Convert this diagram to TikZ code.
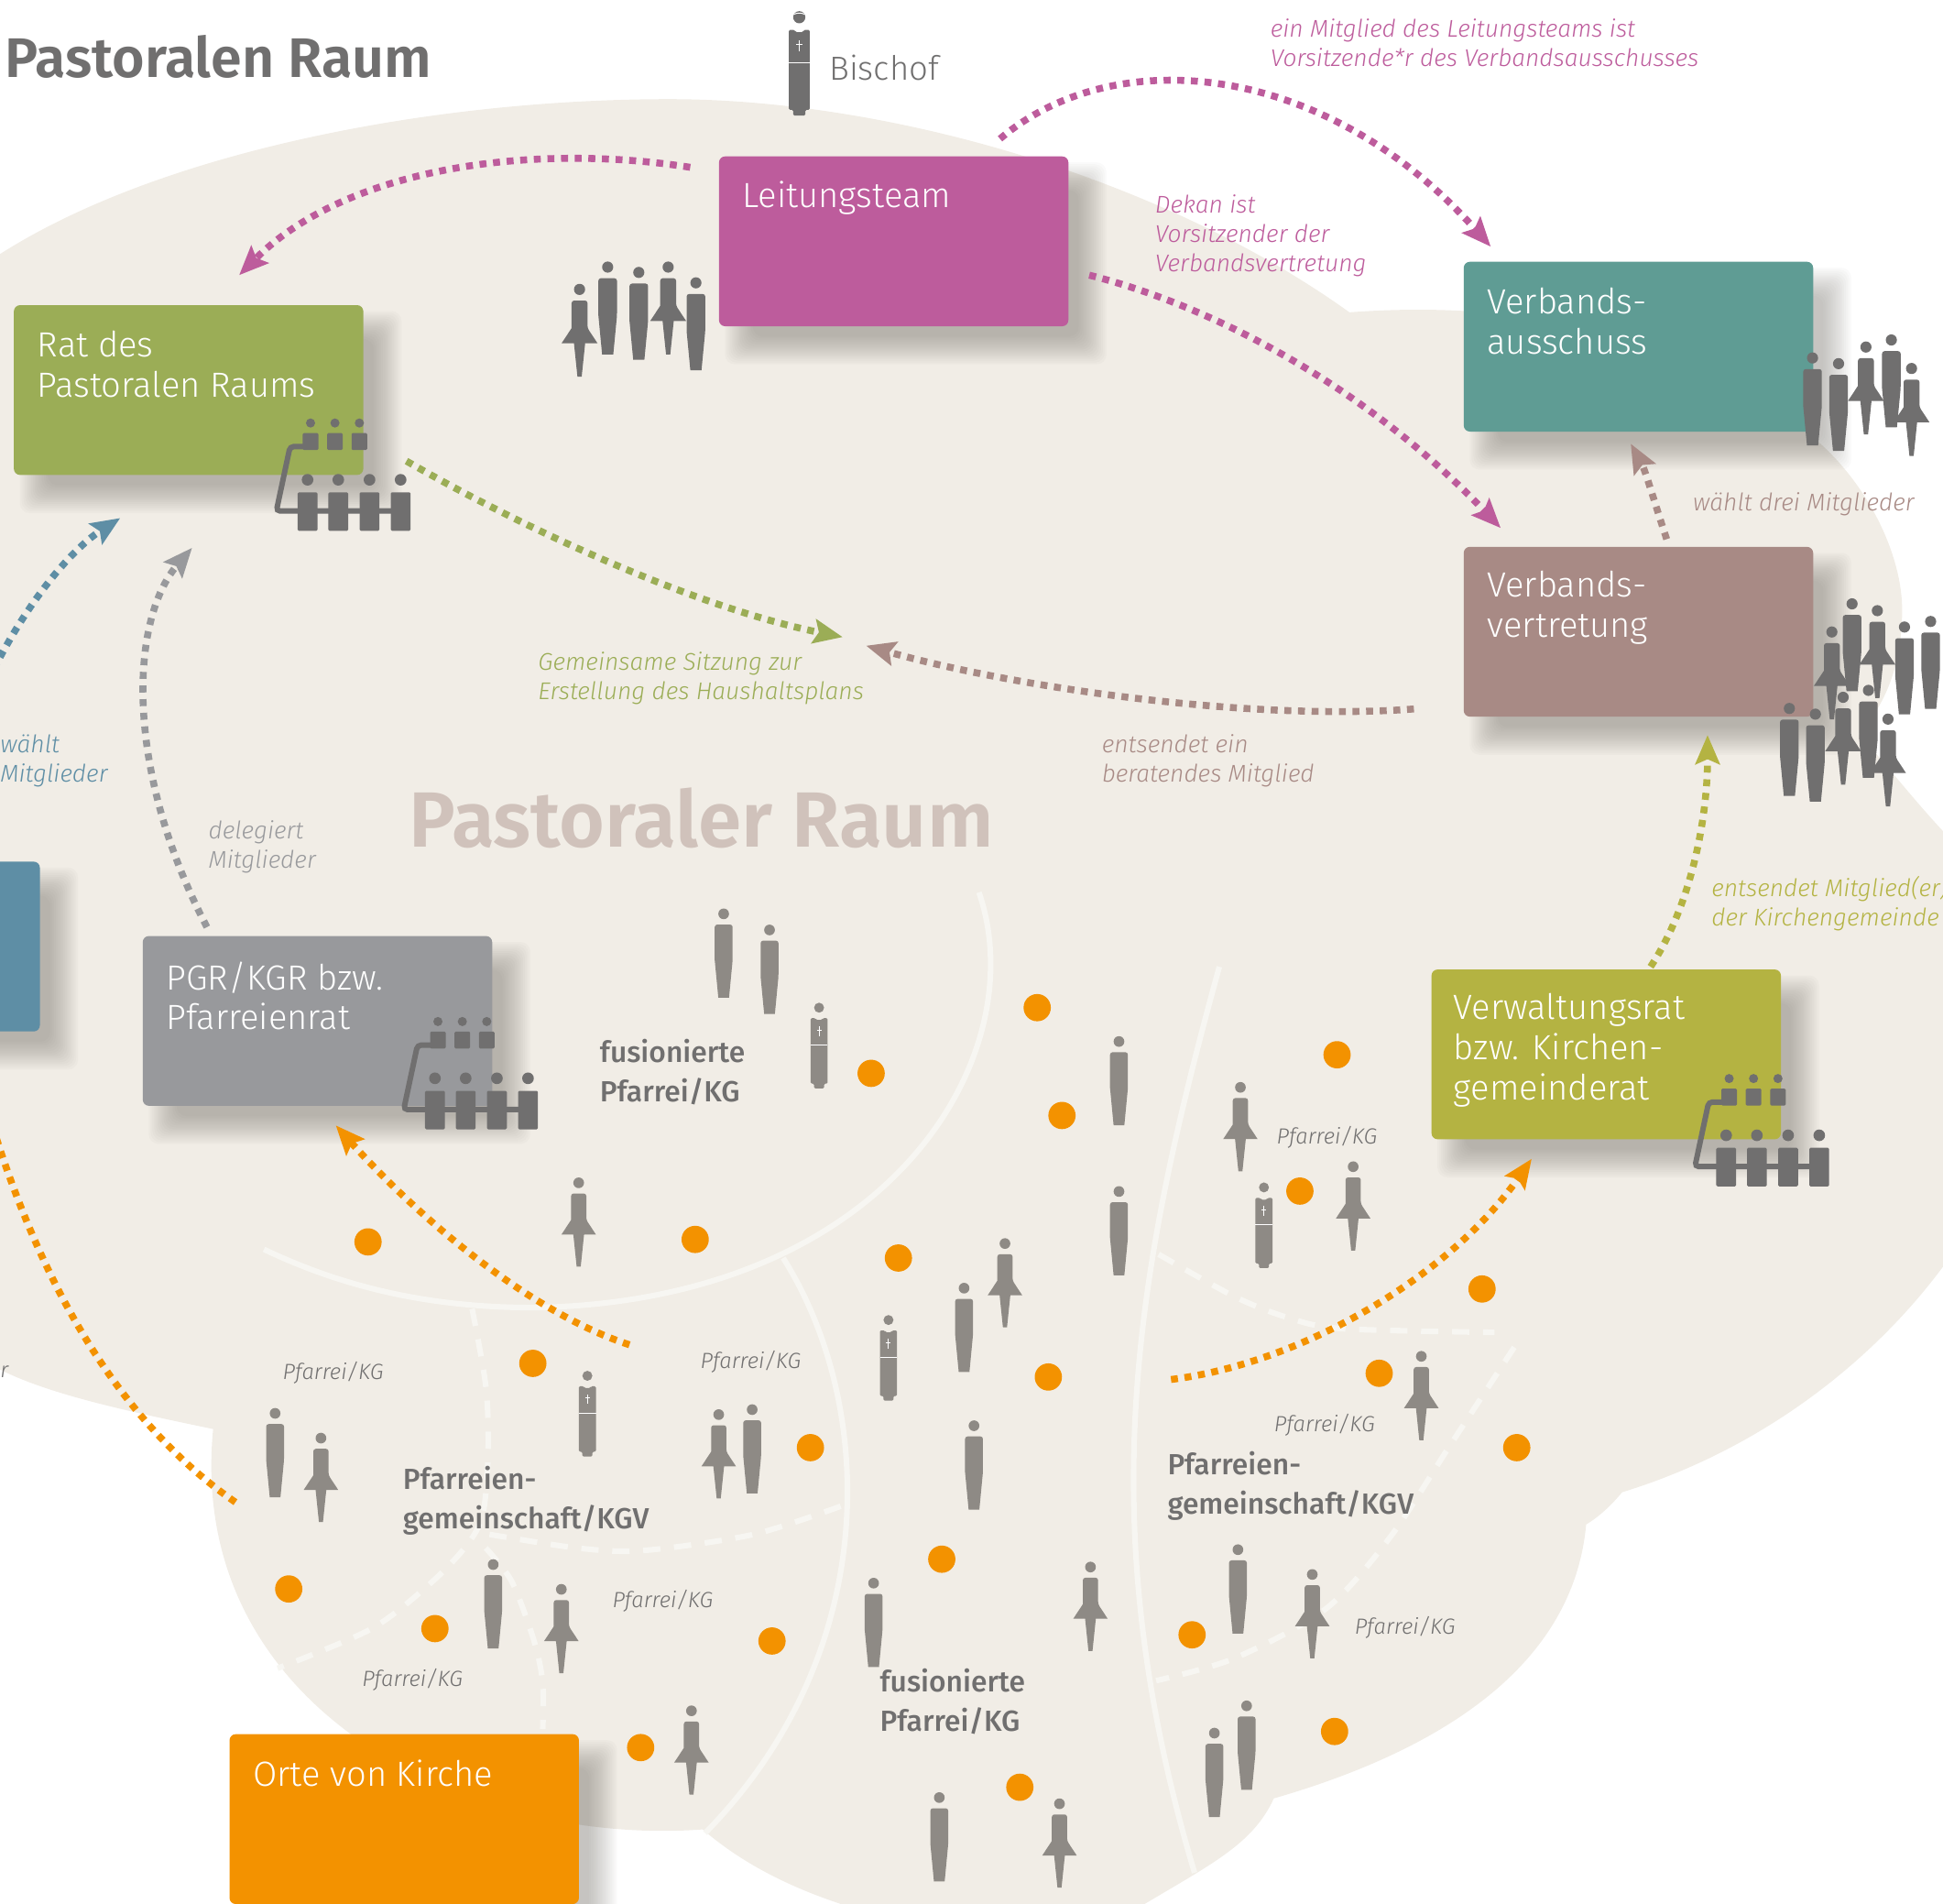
\documentclass[tikz,border=0pt]{standalone}
\usepackage{fontspec}
\setmainfont{Fira Sans Light}[ItalicFont={Fira Sans Light Italic},BoldFont={Fira Sans SemiBold}]
\newfontfamily\regf{Fira Sans Medium}
\newfontfamily\headf{Fira Sans SemiBold}
\usetikzlibrary{arrows.meta}
\definecolor{bg}{HTML}{F1EDE6}
\definecolor{wline}{HTML}{F7F6F2}
\definecolor{darkfig}{HTML}{706F6F}
\definecolor{lightfig}{HTML}{8E8A85}
\definecolor{cPink}{HTML}{BD5C9C}
\definecolor{cGreen}{HTML}{9BAD56}
\definecolor{cTeal}{HTML}{5F9C94}
\definecolor{cTaupe}{HTML}{A88A85}
\definecolor{cBlue}{HTML}{5E8EA5}
\definecolor{cGray}{HTML}{98999C}
\definecolor{cOlive}{HTML}{B4B342}
\definecolor{cOrange}{HTML}{F39200}
\definecolor{cHead}{HTML}{D0C2BB}
\definecolor{shad}{HTML}{6E6B63}
\tikzset{
  boxa/.style={rectangle,rounded corners=5pt,minimum width=282pt,minimum height=137pt,anchor=north west,inner sep=0pt},
  boxtext/.style={anchor=west,align=left,inner sep=0pt,text=white,font=\fontsize{28.2}{32.5}\selectfont},
  note/.style={anchor=west,align=left,inner sep=0pt,font=\itshape\fontsize{19.5}{23.8}\selectfont},
  pf/.style={anchor=west,inner sep=0pt,text=darkfig,font=\itshape\fontsize{17.7}{22}\selectfont},
  gem/.style={anchor=west,align=left,inner sep=0pt,text=darkfig,font=\regf\fontsize{23.5}{32}\selectfont},
  flow/.style={line width=5.6pt,dash pattern=on 5.6pt off 5.4pt,-{Stealth[length=23.5pt,width=19.5pt,inset=4pt]}},
  sep/.style={line width=4.5pt,wline},
  sepd/.style={line width=4.5pt,wline,dash pattern=on 14pt off 11pt},
  dot/.style={fill=cOrange},
  mann/.pic={
    \path[pic actions] (0,4.5) circle[radius=4.5];
    \path[pic actions,rounded corners=2pt] (-7.5,43.6) -- (-7.5,13.5) -- (7.5,13.5) -- (7.5,43.6) [sharp corners] -- (4.5,75) -- (-4.5,75) -- cycle;
  },
  frau/.pic={
    \path[pic actions] (0,4.5) circle[radius=4.5];
    \path[pic actions,rounded corners=2pt] (-6.4,35.7) -- (-6.4,13.5) -- (6.4,13.5) -- (6.4,35.7) [sharp corners] -- (14.5,48) -- (4.5,48) -- (1.7,75) -- (-1.7,75) -- (-4.5,48) -- (-14.5,48) -- cycle;
  },
  priester/.pic={
    \path[pic actions] (0,4.2) circle[radius=4.2];
    \path[pic actions,rounded corners=1pt] (-7.2,68) -- (-7.2,13) -- (-3,13) -- (-2.5,14.5) -- (2.5,14.5) -- (3,13) -- (7.2,13) -- (7.2,68) -- (4.2,68) -- (4.2,72) -- (-4.2,72) -- (-4.2,68) -- cycle;
    \draw[white,line width=.7pt] (-7.2,35.5) -- (7.2,35.5);
    \draw[white,line width=.7pt] (0,20) -- (0,28) (-2,23) -- (2,23);
  },
  gremium/.pic={
    \foreach \bx in {2.4,22.1,41.8}{
      \fill[darkfig] (\bx,-45.8) circle[radius=3.7];
      \fill[darkfig,rounded corners=1pt] ({\bx-6.3},-37.7) rectangle ({\bx+6.3},-24);
    }
    \draw[darkfig,line width=4.4pt,rounded corners=3pt] (-2,-26.8) -- (-14.1,-26.8) -- (-25.2,25.2) -- (74.7,25.2);
    \foreach \bx in {0,24.8,50,75.1}{
      \fill[darkfig] (\bx,0) circle[radius=4.7];
      \fill[darkfig,rounded corners=1pt] ({\bx-8},10.1) rectangle ({\bx+8},41.2);
    }
  }
}
\newcommand{\shadowbox}[2]{%
  \foreach \g in {13,11.5,10,8.5,7,5.5,4,2.5,1,-0.5,-2,-3.5,-5,-6.5,-8,-9.5}{
    \fill[shad,opacity=.03,rounded corners=8pt] ({#1+18-\g},{#2+18-\g}) rectangle ({#1+300+\g},{#2+155+\g});
  }%
}
\begin{document}
\begin{tikzpicture}[x=1pt,y=-1pt]
\useasboundingbox (0,0) rectangle (1568,1536);
\clip (0,0) rectangle (1568,1536);
% ---- background blob
\fill[bg] (0,205)
  .. controls (130,122) and (350,80) .. (540,80)
  .. controls (720,80) and (940,145) .. (1089,252)
  .. controls (1250,240) and (1380,280) .. (1469,358)
  .. controls (1510,395) and (1535,450) .. (1535,492)
  .. controls (1535,530) and (1525,565) .. (1500,592)
  .. controls (1525,620) and (1548,650) .. (1575,678)
  -- (1575,1015) -- (1568,1022)
  .. controls (1510,1100) and (1420,1170) .. (1309,1204)
  .. controls (1300,1215) and (1290,1224) .. (1280,1230)
  .. controls (1270,1340) and (1170,1410) .. (1028,1451)
  .. controls (1010,1490) and (975,1505) .. (909,1545)
  -- (670,1545) -- (678,1536)
  .. controls (630,1520) and (595,1500) .. (567,1476)
  .. controls (380,1490) and (150,1380) .. (172,1153)
  .. controls (100,1138) and (40,1125) .. (0,1105)
  -- cycle;
% ---- boundaries
\draw[sep] (790,720) .. controls (835,850) and (720,1050) .. (431,1055) .. controls (350,1055) and (280,1040) .. (213,1008);
\draw[sep] (632,1015) .. controls (705,1130) and (715,1330) .. (569,1479);
\draw[sep] (984,780) .. controls (915,1030) and (880,1230) .. (964,1511);
\draw[sepd] plot[smooth] coordinates {(381,1056) (392,1118) (394,1170) (390,1220) (378,1245) (349,1276) (300,1314) (224,1346)};
\draw[sepd] plot[smooth] coordinates {(395,1238) (466,1249) (519,1251) (608,1238) (682,1214)};
\draw[sepd] plot[smooth] coordinates {(392,1249) (413,1276) (431,1324) (438,1358) (438,1395)};
\draw[sepd] plot[smooth] coordinates {(935,1012) (996,1046) (1039,1063) (1083,1072) (1206,1075)};
\draw[sepd] plot[smooth] coordinates {(1222,1087) (1169,1168) (1122,1240) (1070,1298) (996,1338) (933,1356)};
% ---- connector ends
\coordinate (a1s) at (557,135); \coordinate (a1e) at (193,222);
\coordinate (a2s) at (807,112); \coordinate (a2e) at (1203,199);
\coordinate (a3s) at (879,222); \coordinate (a3e) at (1211,426);
\coordinate (a4s) at (328,372); \coordinate (a4e) at (680,514);
\coordinate (a5s) at (1141,572); \coordinate (a5e) at (699,521);
\coordinate (a6s) at (1345,435); \coordinate (a6e) at (1316,358);
\coordinate (a7s) at (1332,780); \coordinate (a7e) at (1378,593);
\coordinate (a8s) at (167,748); \coordinate (a8e) at (155,442);
\coordinate (a9s) at (-5,540); \coordinate (a9e) at (97,418);
\coordinate (a10s) at (190,1212); \coordinate (a10e) at (-20,860);
\coordinate (a11s) at (508,1085); \coordinate (a11e) at (271,908);
\coordinate (a12s) at (945,1113); \coordinate (a12e) at (1236,935);
% ---- shadows
\shadowbox{580}{126}
\shadowbox{11}{246}
\shadowbox{1181}{211}
\shadowbox{1181}{441}
\shadowbox{-250}{695}
\shadowbox{115}{755}
\shadowbox{1155}{782}
\shadowbox{185}{1399}
% ---- boxes
\node[boxa,fill=cPink] (leit) at (580,126) {};
\node[boxa,fill=cGreen] (rat) at (11,246) {};
\node[boxa,fill=cTeal] (aus) at (1181,211) {};
\node[boxa,fill=cTaupe] (ver) at (1181,441) {};
\node[boxa,fill=cBlue] (blue) at (-250,695) {};
\node[boxa,fill=cGray] (pgr) at (115,755) {};
\node[boxa,fill=cOlive] (vwr) at (1155,782) {};
\node[boxa,fill=cOrange] (orte) at (185,1399) {};
\node[boxtext] (tleit) at (599,160) {Leitungsteam};
\node[boxtext] (trat) at (30,294) {Rat des\\Pastoralen Raums};
\node[boxtext] (taus) at (1200,259) {Verbands-\\ausschuss};
\node[boxtext] (tver) at (1200,490.5) {Verbands-\\vertretung};
\node[boxtext] (tpgr) at (134,803.5) {PGR/KGR bzw.\\Pfarreienrat};
\node[boxtext] (tvwr) at (1173,847.5) {Verwaltungsrat\\bzw. Kirchen-\\gemeinderat};
\node[boxtext] (torte) at (204,1431) {Orte von Kirche};
% ---- arrows
\draw[flow,cPink] (a1s) .. controls (430,115) and (280,135) .. (a1e);
\draw[flow,cPink] (a2s) .. controls (900,33) and (1070,50) .. (a2e);
\draw[flow,cPink] (a3s) .. controls (990,250) and (1110,320) .. (a3e);
\draw[flow,cGreen] (a4s) .. controls (420,425) and (560,490) .. (a4e);
\draw[flow,cTaupe] (a5s) .. controls (1010,582) and (820,555) .. (a5e);
\draw[flow,cTaupe] (a6s) .. controls (1335,405) and (1328,380) .. (a6e);
\draw[flow,cOlive] (a7s) .. controls (1365,730) and (1378,660) .. (a7e);
\draw[flow,cGray] (a8s) .. controls (100,620) and (105,500) .. (a8e);
\draw[flow,cBlue] (a9s) .. controls (20,490) and (55,445) .. (a9e);
\draw[flow,cOrange] (a10s) .. controls (100,1150) and (30,1040) .. (a10e);
\draw[flow,cOrange] (a11s) .. controls (430,1060) and (340,985) .. (a11e);
\draw[flow,cOrange] (a12s) .. controls (1050,1100) and (1170,1030) .. (a12e);
% ---- dots
\foreach \x/\y in {837/813,703/866,857/900,1079/851,1049/961,297/1002,561/1000,725/1015,1196/1040,430/1100,1113/1108,846/1111,654/1168,1224/1168,233/1282,760/1258,351/1314,623/1324,962/1319,517/1410,1077/1397,823/1442}
  \fill[dot] (\x,\y) circle[radius=11];
% ---- dark figures
\path (645,9) pic[fill=darkfig,scale=1.17] {priester};
\draw[white,line width=.7pt] (640.6,11.6) .. controls (643,10.2) and (647,10.2) .. (649.4,11.6);
\foreach \x/\y in {490.4/211,515.5/215.3,561.6/223.7,1462.7/284.3,1483.7/288.9,1526.3/269.8,1494.6/482.7,1536.9/501.4,1558/496.9}
  \path (\x,\y) pic[fill=darkfig] {mann};
\foreach \x/\y in {467.7/229,539.2/211,1505.8/275.5,1542.6/292.8,1478.3/505.4,1515/488.2}
  \path (\x,\y) pic[fill=darkfig] {frau};
\foreach \x/\y in {1444/567.1,1465/571.7,1507.8/552.5}
  \path (\x,\y) pic[fill=darkfig] {mann};
\foreach \x/\y in {1487.4/558.1,1523.6/575.7}
  \path (\x,\y) pic[fill=darkfig] {frau};
\path (248.2,387.1) pic {gremium};
\path (351,870) pic {gremium};
\path (1393,916) pic {gremium};
% ---- light figures
\foreach \x/\y in {584/733,621/746,903/836,903/957,778/1035,222/1136,607/1133,786/1146,999/1246,398/1258,705/1273,980/1394,1006/1372,758/1446}
  \path (\x,\y) pic[fill=lightfig,scale=.96] {mann};
\foreach \x/\y in {1001/873,1092/937,467/950,811/999,1147/1090,259/1156,580/1137,1059/1266,453/1278,880/1260,558/1376,855/1451}
  \path (\x,\y) pic[fill=lightfig,scale=.96] {frau};
\foreach \x/\y in {661/809,1020/954,717/1061,474/1106}
  \path (\x,\y) pic[fill=lightfig,scale=.96] {priester};
% ---- headings
\node[anchor=west,inner sep=0pt,text=darkfig,font=\headf\fontsize{45}{50}\selectfont] (title) at (4,46) {Pastoralen Raum};
\node[anchor=west,inner sep=0pt,text=darkfig,font=\fontsize{27}{32}\selectfont] (bischof) at (669,55) {Bischof};
\node[anchor=west,inner sep=0pt,text=cHead,font=\headf\fontsize{63.2}{70}\selectfont] (raum) at (330,660) {Pastoraler Raum};
% ---- notes
\node[note,text=cPink] (n1) at (1025,34.5) {ein Mitglied des Leitungsteams ist\\Vorsitzende*r des Verbandsausschusses};
\node[note,text=cPink] (n2) at (932,190) {Dekan ist\\Vorsitzender der\\Verbandsvertretung};
\node[note,text=cTaupe] (n3) at (1366,407) {wählt drei Mitglieder};
\node[note,text=cGreen] (n4) at (434,547) {Gemeinsame Sitzung zur\\Erstellung des Haushaltsplans};
\node[note,text=cTaupe] (n5) at (889,614) {entsendet ein\\beratendes Mitglied};
\node[note,text=cOlive] (n6) at (1381,729) {entsendet Mitglied(er)\\der Kirchengemeinde};
\node[note,text=cBlue] (n7) at (0,614) {wählt\\Mitglieder};
\node[note,text=cGray] (n8) at (168,683.5) {delegiert\\Mitglieder};
% ---- group labels
\node[gem] (g1) at (484,865) {fusionierte\\Pfarrei/KG};
\node[gem] (g2) at (325,1211) {Pfarreien-\\gemeinschaft/KGV};
\node[gem] (g3) at (942,1199) {Pfarreien-\\gemeinschaft/KGV};
\node[gem] (g4) at (710,1373) {fusionierte\\Pfarrei/KG};
\node[pf] (p1) at (228,1108) {Pfarrei/KG};
\node[pf] (p2) at (565,1099) {Pfarrei/KG};
\node[pf] (p3) at (494,1292) {Pfarrei/KG};
\node[pf] (p4) at (292,1355) {Pfarrei/KG};
\node[pf] (p5) at (1030,918) {Pfarrei/KG};
\node[pf] (p6) at (1028,1150) {Pfarrei/KG};
\node[pf] (p7) at (1093,1313) {Pfarrei/KG};
\node[pf] (p8) at (0,1107) {r};
\end{tikzpicture}
\end{document}
